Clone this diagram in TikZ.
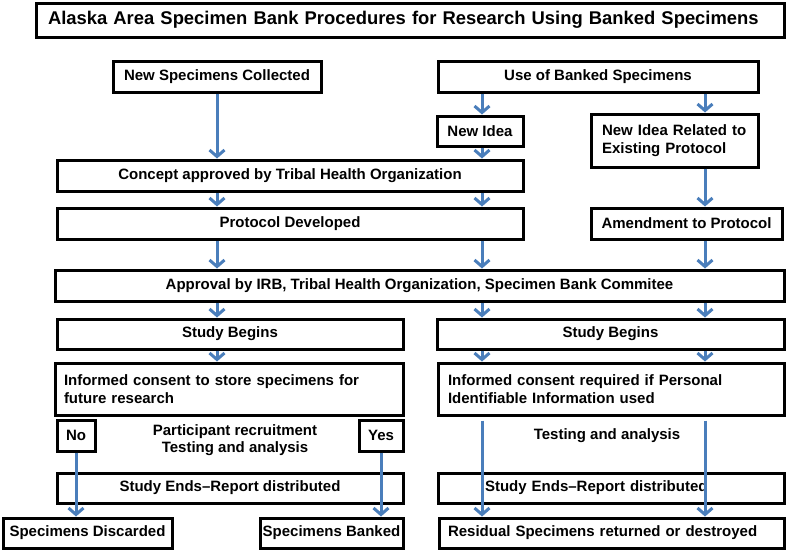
\documentclass[tikz,border=0pt]{standalone}
\usepackage{fontspec}
\setmainfont{Liberation Sans}
\usetikzlibrary{arrows.meta}
\definecolor{arrowblue}{RGB}{74,126,187}
\newcommand{\diabody}{\fontsize{15}{17.5}\selectfont\bfseries}
\newcommand{\diatitle}{\fontsize{18.4}{22}\selectfont\bfseries}
\begin{document}
\begin{tikzpicture}[x=1pt,y=-1pt,
  box/.style={draw=black, line width=3pt, fill=white, inner sep=0pt, font=\diabody, align=center},
  lbox/.style={box, align=left},
  plain/.style={inner sep=0pt, font=\diabody, align=center},
  arr/.style={draw=arrowblue, line width=3pt, -{Straight Barb[length=6.5pt,width=15pt]}}
]
\fill[white] (0,0) rectangle (787,550);
\useasboundingbox (0,0) rectangle (787,550);

% columns for connectors
\coordinate (c1) at (217,0);
\coordinate (c2) at (482,0);
\coordinate (c3) at (705,0);

\node[lbox, inner xsep=12pt, text width=724pt, minimum height=34pt, font=\diatitle] (title) at (410,20) {Alaska Area Specimen Bank Procedures for Research Using Banked Specimens};

\node[box, minimum width=208pt, minimum height=31pt] (nsc) at (217,76.5) {New Specimens Collected};
\node[box, minimum width=320pt, minimum height=31pt] (use) at (598,76.5) {Use of Banked Specimens};
\node[box, minimum width=86pt, minimum height=30pt] (newidea) at (480,131) {New Idea};
\node[lbox, inner xsep=11pt, text width=145pt, minimum height=53pt] (related) at (674.5,140.5) {New Idea Related to\\Existing Protocol};
\node[box, minimum width=466pt, minimum height=31pt] (concept) at (290,175.5) {Concept approved by Tribal Health Organization};
\node[box, minimum width=466pt, minimum height=31pt] (protocol) at (290,223.5) {Protocol Developed};
\node[box, minimum width=191pt, minimum height=31pt] (amend) at (686.5,223.5) {Amendment to Protocol};
\node[box, minimum width=729pt, minimum height=31pt] (approval) at (419.5,285.5) {Approval by IRB, Tribal Health Organization, Specimen Bank Commitee};
\node[box, minimum width=346pt, minimum height=30pt] (sbl) at (230,334) {Study Begins};
\node[box, minimum width=347pt, minimum height=30pt] (sbr) at (610.5,334) {Study Begins};
\node[lbox, inner xsep=9pt, text width=330pt, minimum height=52pt] (icl) at (229,389) {Informed consent to store specimens for\\future research};
\node[lbox, inner xsep=10pt, text width=326pt, minimum height=52pt] (icr) at (611,389) {Informed consent required if Personal\\Identifiable Information used};
\node[box, minimum width=38pt, minimum height=31pt] (no) at (76,435.5) {No};
\node[box, minimum width=44pt, minimum height=31pt] (yes) at (381,435.5) {Yes};
\node[plain] (partic) at (235,440) {Participant recruitment\\Testing and analysis};
\node[plain] (testr) at (607,436) {Testing and analysis};
\node[box, minimum width=346pt, minimum height=30pt] (sel) at (230,488) {Study Ends–Report distributed};
\node[lbox, inner xsep=47pt, text width=252pt, minimum height=30pt] (ser) at (611,488) {Study Ends–Report distributed};
\node[box, minimum width=169pt, minimum height=30pt] (sd) at (87.5,533) {Specimens Discarded};
\node[box, minimum width=143pt, minimum height=30pt] (sb) at (331.5,533) {Specimens Banked};
\node[lbox, inner xsep=9pt, text width=327pt, minimum height=30pt] (res) at (611.5,533) {Residual Specimens returned or destroyed};

% connectors
\draw[arr] (nsc.south -| c1) -- (concept.north -| c1);
\draw[arr] (use.south -| c2) -- (newidea.north -| c2);
\draw[arr] (use.south -| c3) -- (related.north -| c3);
\draw[arr] (newidea.south -| c2) -- (concept.north -| c2);
\draw[arr] (concept.south -| c1) -- (protocol.north -| c1);
\draw[arr] (concept.south -| c2) -- (protocol.north -| c2);
\draw[arr] (related.south -| c3) -- (amend.north -| c3);
\draw[arr] (protocol.south -| c1) -- (approval.north -| c1);
\draw[arr] (protocol.south -| c2) -- (approval.north -| c2);
\draw[arr] (amend.south -| c3) -- (approval.north -| c3);
\draw[arr] (approval.south -| c1) -- (sbl.north -| c1);
\draw[arr] (approval.south -| c2) -- (sbr.north -| c2);
\draw[arr] (approval.south -| c3) -- (sbr.north -| c3);
\draw[arr] (sbl.south -| c1) -- (icl.north -| c1);
\draw[arr] (sbr.south -| c2) -- (icr.north -| c2);
\draw[arr] (sbr.south -| c3) -- (icr.north -| c3);
\draw[arr] (no.south) -- (no.south |- sd.north);
\draw[arr] (yes.south) -- (yes.south |- sb.north);
\draw[arr] ([yshift=-4pt]icr.south -| c2) -- (res.north -| c2);
\draw[arr] ([yshift=-4pt]icr.south -| c3) -- (res.north -| c3);
\end{tikzpicture}
\end{document}
